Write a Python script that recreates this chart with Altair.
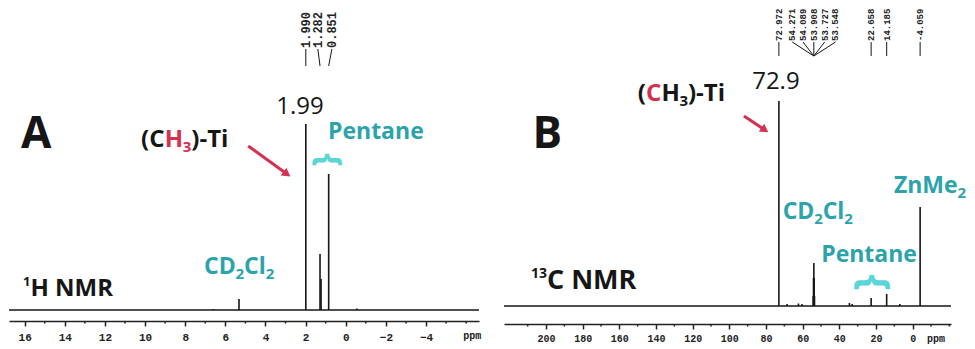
import altair as alt
import pandas as pd

# ---------------- Panel A : 1H NMR ----------------
h_peak_ppm = [6.6, 5.32, 1.990, 1.282, 1.23, 0.851, -0.55]
h_peak_int = [1, 11, 186, 56, 31, 136, 1.5]

h_lbl_text = ["1.990", "1.282", "0.851"]
h_lbl_peak = [1.990, 1.282, 0.851]
h_lbl_pos = [1.990, 1.39, 0.69]

h_major = list(range(-4, 17, 2))
h_minor = [-6] + list(range(-5, 17, 2))

# ---------------- Panel B : 13C NMR ----------------
c_peak_ppm = [72.972, 68.5, 62.3, 60.4, 54.271, 54.089, 53.908, 53.727, 53.548,
              34.5, 33.0, 22.658, 14.185, 7.0, -4.059]
c_peak_int = [205, 2, 2.5, 2, 10, 28, 43, 28, 10, 3, 2, 8, 12, 2, 99]

c_lbl_text = ["72.972", "54.271", "54.089", "53.908", "53.727", "53.548",
              "22.658", "14.185", "-4.059"]
c_lbl_peak = [72.972, 53.908, 53.908, 53.908, 53.908, 53.908, 22.658, 14.185, -4.059]
c_lbl_pos = [72.972, 65.7, 59.8, 53.908, 48.0, 42.1, 22.658, 14.185, -4.059]

c_major = list(range(0, 201, 20))
c_minor = [-20, -10] + list(range(10, 211, 20))

# ---------------- styling ----------------
TEAL = "#2ba3ab"
BRACE = "#5ad5d8"
RED = "#d4304f"
INK = "#161616"
SANS = "Open Sans"
MONO = "Liberation Mono"

# approximate advance widths (em) of Open Sans Bold, used to chain text pieces
EM = {"(": 0.35, ")": 0.35, "-": 0.32, "C": 0.64, "D": 0.73, "H": 0.75, "T": 0.56,
      "i": 0.30, "l": 0.30, "Z": 0.57, "n": 0.65, "M": 0.96, "e": 0.58, "N": 0.80,
      "R": 0.67, " ": 0.26}


def text_width(s, size):
    return round(sum(EM.get(ch, 0.57) for ch in s) * size, 1)


def make_axis(values, size, offset, pad):
    return alt.Axis(
        values=values, title=None, grid=False, labelOverlap=False, labelFlush=False,
        labelFont=MONO, labelFontWeight="bold", labelFontSize=size, labelColor="#222",
        domainColor="#222", domainWidth=1.5, tickColor="#222", tickWidth=1.5,
        tickSize=5, labelPadding=pad, offset=offset,
    )


def panel(peak_ppm, peak_int, lbl_text, lbl_peak, lbl_pos, lbl_y, lbl_fs,
          xdom, ydom, axis, minor, minor_y, texts, rich, arrow, braces, width, height):
    sx = alt.Scale(domain=xdom, reverse=True, nice=False, zero=False)
    sy = alt.Scale(domain=ydom, nice=False, zero=False)
    X = lambda f: alt.X(f, type="quantitative", scale=sx, axis=axis)
    Y = lambda f: alt.Y(f, type="quantitative", scale=sy, axis=None)

    peaks = pd.DataFrame({"ppm": peak_ppm, "h": peak_int})
    peaks["z"] = 0
    lines = alt.Chart(peaks).mark_rule(color=INK, strokeWidth=1.6).encode(
        x=X("ppm"), y=Y("h"), y2="z"
    )
    bdf = pd.DataFrame({"xa": [xdom[1]], "xb": [xdom[0]], "z": [0]})
    base = alt.Chart(bdf).mark_rule(color=INK, strokeWidth=1.3).encode(
        x=X("xa"), x2="xb", y=Y("z")
    )
    mdf = pd.DataFrame({"m": minor})
    mdf["ya"] = minor_y[0]
    mdf["yb"] = minor_y[1]
    minor_ticks = alt.Chart(mdf).mark_rule(color="#222", strokeWidth=1.5).encode(
        x=X("m"), y=Y("ya"), y2="yb"
    )

    y_text, y_top, y_bot = lbl_y
    lbl = pd.DataFrame({"t": lbl_text, "peak": lbl_peak, "pos": lbl_pos})
    lbl["yt"] = y_text
    lbl["y1"] = y_top
    lbl["y0"] = y_bot
    conn = alt.Chart(lbl).mark_rule(color=INK, strokeWidth=1).encode(
        x=X("pos"), y=Y("y1"), x2="peak", y2="y0"
    )
    lbltxt = alt.Chart(lbl).mark_text(
        font=MONO, fontSize=lbl_fs, fontWeight="bold", color="#222", angle=270,
        align="left", baseline="middle"
    ).encode(x=X("pos"), y=Y("yt"), text="t:N")

    layers = [lines, base, minor_ticks, conn, lbltxt]

    for items, style in texts:
        df = pd.DataFrame(items, columns=["t", "x", "y"])
        layers.append(alt.Chart(df).mark_text(**style).encode(x=X("x"), y=Y("y"), text="t:N"))

    # chained text pieces (sub/superscripts, coloured letters)
    for (ax, ay, pieces) in rich:
        dx = 0.0
        for (s, size, weight, color, dy) in pieces:
            df = pd.DataFrame({"t": [s], "x": [ax], "y": [ay]})
            layers.append(alt.Chart(df).mark_text(
                font=SANS, fontSize=size, fontWeight=weight, color=color,
                align="left", baseline="alphabetic", dx=dx, dy=dy
            ).encode(x=X("x"), y=Y("y"), text="t:N"))
            dx = round(dx + text_width(s, size), 1)

    for (bx, by, bs) in braces:
        df = pd.DataFrame({"t": ["{"], "x": [bx], "y": [by]})
        layers.append(alt.Chart(df).mark_text(
            font=SANS, fontSize=bs, fontWeight="bold", color=BRACE, angle=90,
            align="center", baseline="middle").encode(x=X("x"), y=Y("y"), text="t:N"))

    (ax0, ay0, ax1, ay1, ang) = arrow
    adf = pd.DataFrame({"x0": [ax0], "y0": [ay0], "x1": [ax1], "y1": [ay1]})
    layers.append(alt.Chart(adf).mark_rule(color=RED, strokeWidth=3).encode(
        x=X("x0"), y=Y("y0"), x2="x1", y2="y1"))
    layers.append(alt.Chart(adf).mark_point(
        shape="triangle-right", filled=True, color=RED, opacity=1, size=90, angle=ang
    ).encode(x=X("x1"), y=Y("y1")))

    return alt.layer(*layers).properties(width=width, height=height)


def S(size, weight="normal", color=INK, font=SANS, align="left", baseline="alphabetic"):
    return dict(font=font, fontSize=size, fontWeight=weight, color=color, align=align, baseline=baseline)


B_ = "bold"

texts_A = [
    ([["A", 16.18, 162]], S(44, B_)),
    ([["1.99", 2.28, 196]], S(24, align="center")),
    ([["Pentane", -1.50, 171]], S(23, B_, TEAL, align="center")),
    ([["ppm", -6.3, -29]], S(10, B_, "#222", MONO, "center")),
]
rich_A = [
    (16.08, 14, [("1", 13, B_, INK, -10), ("H NMR", 24, B_, INK, 0)]),
    (10.20, 163, [("(C", 24, B_, INK, 0), ("H", 24, B_, RED, 0), ("3", 15, B_, RED, 5),
                  (")-Ti", 24, B_, INK, 0)]),
    (7.06, 36, [("CD", 23, B_, TEAL, 0), ("2", 15, B_, TEAL, 5), ("Cl", 23, B_, TEAL, 0),
                ("2", 15, B_, TEAL, 5)]),
]

texts_B = [
    ([["B", 207.3, 158]], S(44, B_)),
    ([["72.9", 74.6, 217]], S(24, align="center")),
    ([["Pentane", 23.8, 44]], S(23, B_, TEAL, align="center")),
    ([["ppm", -12.7, -36]], S(10, B_, "#222", MONO, "center")),
]
rich_B = [
    (208.2, 17, [("13", 14, B_, INK, -11), ("C NMR", 27, B_, INK, 0)]),
    (150.0, 205, [("(", 24, B_, INK, 0), ("C", 24, B_, RED, 0), ("H", 24, B_, INK, 0),
                  ("3", 15, B_, INK, 5), (")-Ti", 24, B_, INK, 0)]),
    (70.9, 87, [("CD", 23, B_, TEAL, 0), ("2", 15, B_, TEAL, 5), ("Cl", 23, B_, TEAL, 0),
                ("2", 15, B_, TEAL, 5)]),
    (10.25, 113, [("ZnMe", 23, B_, TEAL, 0), ("2", 15, B_, TEAL, 5)]),
]

chartA = panel(
    h_peak_ppm, h_peak_int, h_lbl_text, h_lbl_peak, h_lbl_pos, (262, 261, 244), 12,
    [-6.64, 16.78], [-11, 301], make_axis(h_major, 11, 0, 5), h_minor, (-11, -13.5),
    texts_A, rich_A, (4.86, 164, 2.93, 136, 35.8), [(0.89, 150, 34)], 470, 312,
)

chartB = panel(
    c_peak_ppm, c_peak_int, c_lbl_text, c_lbl_peak, c_lbl_pos, (265, 264, 250), 9,
    [-20.9, 222.9], [-15, 297], make_axis(c_major, 10, 3, 4), c_minor, (-18, -20.5),
    texts_B, rich_B, (92.0, 190, 80.6, 176, 34.2), [(21.4, 23.5, 42)], 447, 312,
)

chart = alt.hconcat(chartA, chartB, spacing=25, bounds="flush").properties(
    padding=0
).configure_view(stroke=None)

chart.save("out.html", embed_options={"renderer": "svg", "actions": False})
